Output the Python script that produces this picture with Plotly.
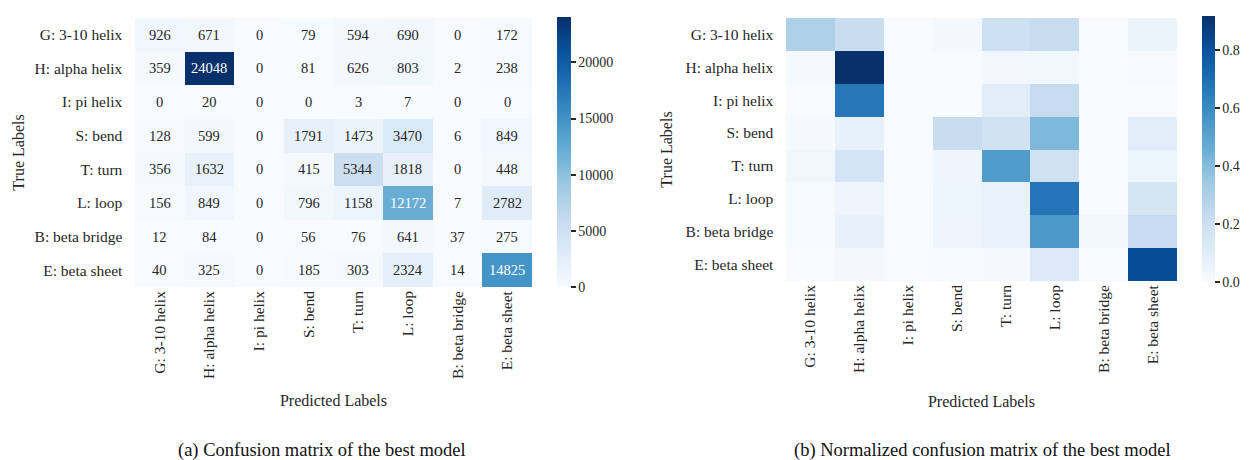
import plotly.graph_objects as go

labels = ["G: 3-10 helix", "H: alpha helix", "I: pi helix", "S: bend",
          "T: turn", "L: loop", "B: beta bridge", "E: beta sheet"]

counts = [
    [926, 671, 0, 79, 594, 690, 0, 172],
    [359, 24048, 0, 81, 626, 803, 2, 238],
    [0, 20, 0, 0, 3, 7, 0, 0],
    [128, 599, 0, 1791, 1473, 3470, 6, 849],
    [356, 1632, 0, 415, 5344, 1818, 0, 448],
    [156, 849, 0, 796, 1158, 12172, 7, 2782],
    [12, 84, 0, 56, 76, 641, 37, 275],
    [40, 325, 0, 185, 303, 2324, 14, 14825],
]

normalized = [
    [0.296, 0.214, 0.0, 0.025, 0.190, 0.220, 0.0, 0.055],
    [0.014, 0.919, 0.0, 0.003, 0.024, 0.031, 0.0001, 0.009],
    [0.0, 0.667, 0.0, 0.0, 0.100, 0.233, 0.0, 0.0],
    [0.015, 0.072, 0.0, 0.215, 0.177, 0.417, 0.001, 0.102],
    [0.036, 0.163, 0.0, 0.041, 0.534, 0.182, 0.0, 0.045],
    [0.009, 0.047, 0.0, 0.044, 0.065, 0.679, 0.0004, 0.155],
    [0.010, 0.071, 0.0, 0.047, 0.064, 0.543, 0.031, 0.233],
    [0.002, 0.018, 0.0, 0.010, 0.017, 0.129, 0.001, 0.823],
]

count_ticks = [0, 5000, 10000, 15000, 20000]
count_ticklabels = ["0", "5000", "10000", "15000", "20000"]
norm_ticks = [0.0, 0.2, 0.4, 0.6, 0.8]
norm_ticklabels = ["0.0", "0.2", "0.4", "0.6", "0.8"]

blues = [
    [0.0, "#f7fbff"], [0.125, "#deebf7"], [0.25, "#c6dbef"], [0.375, "#9ecae1"],
    [0.5, "#6baed6"], [0.625, "#4292c6"], [0.75, "#2171b5"], [0.875, "#08519c"],
    [1.0, "#08306b"],
]

FONT = "Liberation Serif"
TXT = "#262626"
W, H = 1249, 460

def px_x(p):
    return p / W

def px_y(p):
    return 1 - p / H

fig = go.Figure()

cmax1 = max(max(r) for r in counts)
fig.add_trace(go.Heatmap(
    z=counts, x=labels, y=labels, colorscale=blues, zmin=0, zmax=cmax1,
    xaxis="x", yaxis="y", hoverinfo="skip",
    colorbar=dict(
        x=px_x(557), xanchor="left", xpad=0, ypad=0,
        y=px_y(287), yanchor="bottom",
        len=(287 - 17) / H, lenmode="fraction", thickness=14,
        outlinewidth=0, ticks="outside", ticklen=5, tickwidth=1.5,
        tickcolor=TXT, tickvals=count_ticks, ticktext=count_ticklabels,
        tickfont=dict(family=FONT, size=14, color=TXT),
    ),
))

cmax2 = max(max(r) for r in normalized)
fig.add_trace(go.Heatmap(
    z=normalized, x=labels, y=labels, colorscale=blues, zmin=0, zmax=cmax2,
    xaxis="x2", yaxis="y2", hoverinfo="skip",
    colorbar=dict(
        x=px_x(1202), xanchor="left", xpad=0, ypad=0,
        y=px_y(282), yanchor="bottom",
        len=(282 - 16) / H, lenmode="fraction", thickness=13,
        outlinewidth=0, ticks="outside", ticklen=5, tickwidth=1.5,
        tickcolor=TXT, tickvals=norm_ticks, ticktext=norm_ticklabels,
        tickfont=dict(family=FONT, size=14, color=TXT),
    ),
))

# cell annotations for the count matrix
for i, row in enumerate(counts):
    for j, v in enumerate(row):
        frac = v / cmax1
        fig.add_annotation(
            x=labels[j], y=labels[i], xref="x", yref="y", text=str(v),
            showarrow=False,
            font=dict(family=FONT, size=14.5, color="white" if frac > 0.45 else TXT),
        )

tick_font = dict(family=FONT, size=15.5, color=TXT)
title_font = dict(family=FONT, size=16, color=TXT)
axis_common = dict(showgrid=False, zeroline=False, showline=False, ticks="",
                   tickfont=tick_font)

fig.update_layout(
    width=W, height=H,
    margin=dict(l=0, r=0, t=0, b=0),
    paper_bgcolor="white", plot_bgcolor="white",
    font=dict(family=FONT, color=TXT),
    xaxis=dict(domain=[px_x(135), px_x(532)], anchor="y", tickangle=-90,
               title=dict(text="Predicted Labels", font=title_font, standoff=16),
               **axis_common),
    yaxis=dict(domain=[px_y(287), px_y(18)], anchor="x", autorange="reversed",
               title=dict(text="True Labels", font=title_font, standoff=5),
               ticksuffix="   ", **axis_common),
    xaxis2=dict(domain=[px_x(786), px_x(1177)], anchor="y2", tickangle=-90,
                title=dict(text="Predicted Labels", font=title_font, standoff=23),
                **axis_common),
    yaxis2=dict(domain=[px_y(281), px_y(18)], anchor="x2", autorange="reversed",
                title=dict(text="True Labels", font=title_font, standoff=8),
                ticksuffix="   ", **axis_common),
)

cap_font = dict(family=FONT, size=18.5, color="#111111")
fig.add_annotation(x=px_x(322), y=px_y(450), xref="paper", yref="paper",
                   xanchor="center", yanchor="middle",
                   text="(a) Confusion matrix of the best model", showarrow=False,
                   font=cap_font)
fig.add_annotation(x=px_x(982), y=px_y(450), xref="paper", yref="paper",
                   xanchor="center", yanchor="middle",
                   text="(b) Normalized confusion matrix of the best model", showarrow=False,
                   font=cap_font)

fig.write_html(
    "out.html",
    config={"displayModeBar": False},
    post_script="document.body.style.margin='0';document.body.style.overflow='hidden';",
)
